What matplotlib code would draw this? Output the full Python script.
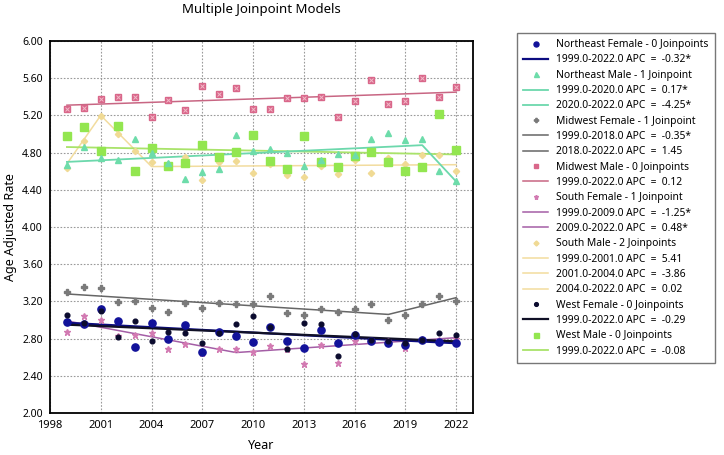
import matplotlib
matplotlib.use("Agg")
import matplotlib.pyplot as plt
from matplotlib.lines import Line2D

plt.rcParams['font.family'] = ['Noto Sans', 'DejaVu Sans']

years = list(range(1999, 2023))

ne_female = [2.98, 2.96, 3.12, 2.99, 2.71, 2.97, 2.80, 2.95, 2.66, 2.87, 2.83, 2.76,
             2.92, 2.77, 2.70, 2.89, 2.75, 2.84, 2.77, 2.75, 2.73, 2.79, 2.76, 2.75]
ne_male = [4.67, 4.86, 4.74, 4.72, 4.95, 4.80, 4.69, 4.52, 4.59, 4.62, 4.99, 4.82,
           4.84, 4.80, 4.66, 4.72, 4.78, 4.77, 4.95, 5.01, 4.94, 4.95, 4.60, 4.49]
mw_female = [3.30, 3.35, 3.34, 3.19, 3.20, 3.13, 3.09, 3.18, 3.13, 3.18, 3.17, 3.17,
             3.26, 3.08, 3.05, 3.12, 3.09, 3.12, 3.17, 3.00, 3.05, 3.17, 3.26, 3.20]
mw_male = [5.27, 5.28, 5.38, 5.40, 5.40, 5.18, 5.37, 5.26, 5.52, 5.43, 5.49, 5.27,
           5.27, 5.39, 5.39, 5.40, 5.18, 5.35, 5.58, 5.32, 5.35, 5.60, 5.40, 5.51]
s_female = [2.87, 3.04, 3.00, 2.83, 2.84, 2.86, 2.69, 2.74, 2.65, 2.69, 2.69, 2.66,
            2.72, 2.69, 2.53, 2.73, 2.54, 2.77, 2.78, 2.77, 2.70, 2.80, 2.78, 2.80]
s_male = [4.63, 4.92, 5.19, 5.00, 4.82, 4.70, 4.68, 4.75, 4.51, 4.70, 4.71, 4.58,
          4.68, 4.56, 4.54, 4.66, 4.57, 4.72, 4.58, 4.74, 4.68, 4.77, 4.77, 4.60]
w_female = [3.05, 2.97, 3.10, 2.82, 2.99, 2.77, 2.87, 2.86, 2.75, 2.86, 2.96, 3.04,
            2.93, 2.69, 2.97, 2.96, 2.61, 2.85, 2.78, 2.77, 2.75, 2.78, 2.86, 2.84]
w_male = [4.98, 5.08, 4.82, 5.09, 4.60, 4.85, 4.66, 4.69, 4.88, 4.75, 4.81, 4.99,
          4.71, 4.62, 4.98, 4.70, 4.65, 4.76, 4.81, 4.70, 4.60, 4.64, 5.22, 4.83]

# joinpoint model fits (joinpoint years, fitted values)
ne_female_fit_x, ne_female_fit_y = [1999, 2022], [2.97, 2.75]
ne_male_fit_x, ne_male_fit_y = [1999, 2020, 2022], [4.70, 4.88, 4.49]
mw_female_fit_x, mw_female_fit_y = [1999, 2018, 2022], [3.28, 3.06, 3.24]
mw_male_fit_x, mw_male_fit_y = [1999, 2022], [5.31, 5.45]
s_female_fit_x, s_female_fit_y = [1999, 2009, 2022], [2.99, 2.65, 2.81]
s_male_fit_x, s_male_fit_y = [1999, 2001, 2004, 2022], [4.68, 5.20, 4.65, 4.67]
w_female_fit_x, w_female_fit_y = [1999, 2022], [2.95, 2.77]
w_male_fit_x, w_male_fit_y = [1999, 2022], [4.86, 4.78]

series_names = ["Northeast Female - 0 Joinpoints", "Northeast Male - 1 Joinpoint",
                "Midwest Female - 1 Joinpoint", "Midwest Male - 0 Joinpoints",
                "South Female - 1 Joinpoint", "South Male - 2 Joinpoints",
                "West Female - 0 Joinpoints", "West Male - 0 Joinpoints"]
segment_labels = [
    ["1999.0-2022.0 APC  =  -0.32*"],
    ["1999.0-2020.0 APC  =  0.17*", "2020.0-2022.0 APC  =  -4.25*"],
    ["1999.0-2018.0 APC  =  -0.35*", "2018.0-2022.0 APC  =  1.45"],
    ["1999.0-2022.0 APC  =  0.12"],
    ["1999.0-2009.0 APC  =  -1.25*", "2009.0-2022.0 APC  =  0.48*"],
    ["1999.0-2001.0 APC  =  5.41", "2001.0-2004.0 APC  =  -3.86", "2004.0-2022.0 APC  =  0.02"],
    ["1999.0-2022.0 APC  =  -0.29"],
    ["1999.0-2022.0 APC  =  -0.08"],
]
xtick_vals = [1998, 2001, 2004, 2007, 2010, 2013, 2016, 2019, 2022]
ytick_vals = [2.00, 2.40, 2.80, 3.20, 3.60, 4.00, 4.40, 4.80, 5.20, 5.60, 6.00]

data = [ne_female, ne_male, mw_female, mw_male, s_female, s_male, w_female, w_male]
fits = [(ne_female_fit_x, ne_female_fit_y), (ne_male_fit_x, ne_male_fit_y),
        (mw_female_fit_x, mw_female_fit_y), (mw_male_fit_x, mw_male_fit_y),
        (s_female_fit_x, s_female_fit_y), (s_male_fit_x, s_male_fit_y),
        (w_female_fit_x, w_female_fit_y), (w_male_fit_x, w_male_fit_y)]

styles = [
    dict(marker='o', ms=5.2, mc='#12129a', lc='#0c0c80', lw=1.6),
    dict(marker='^', ms=4.6, mc='#6ddcaa', lc='#6cd8ac', lw=1.3),
    dict(marker='P', ms=3.8, mc='#7a7a7a', lc='#666666', lw=1.1),
    dict(marker='s', ms=4.2, mc='#d9678a', lc='#c86683', lw=1.1),
    dict(marker='*', ms=4.6, mc='#d27ab2', lc='#a45ea6', lw=1.1),
    dict(marker='D', ms=3.2, mc='#f0da94', lc='#f2dc9e', lw=1.1),
    dict(marker='o', ms=3.4, mc='#0b0b2e', lc='#101026', lw=1.6),
    dict(marker='s', ms=6.2, mc='#93e650', lc='#a9e36a', lw=1.3),
]

fig = plt.figure(figsize=(7.24, 4.55), dpi=100)
ax = fig.add_axes([50/724, 1-413/455, 423/724, 372/455])

draw_order = [5, 7, 1, 3, 2, 4, 0, 6]
for i in draw_order:
    st = styles[i]
    fx, fy = fits[i]
    ax.plot(fx, fy, color=st['lc'], lw=st['lw'], zorder=2)
for i in draw_order:
    st = styles[i]
    ax.plot(years, data[i], linestyle='none', marker=st['marker'], ms=st['ms'],
            color=st['mc'], markeredgecolor=st['mc'], zorder=3)
    if i == 3:
        ax.plot(years, data[i], linestyle='none', marker='x', ms=2.6,
                color='#f2b8c8', mew=0.7, zorder=4)

ax.set_xlim(1998, 2023)
ax.set_ylim(2.0, 6.0)
ax.set_xticks(xtick_vals)
ax.set_xticklabels([str(v) for v in xtick_vals], fontsize=8)
ax.set_yticks(ytick_vals)
ax.set_yticklabels([f"{v:.2f}" for v in ytick_vals], fontsize=7.5)
ax.tick_params(length=0, pad=5)
ax.grid(True, color='#9a9a9a', linestyle=(0, (1.5, 1.5)), linewidth=0.8)
ax.set_axisbelow(True)
for sp in ax.spines.values():
    sp.set_color('black')
    sp.set_linewidth(1.3)

ax.set_xlabel("Year", fontsize=9, fontweight='bold', labelpad=6)
ax.set_ylabel("Age Adjusted Rate", fontsize=9, fontweight='bold', labelpad=4)
ax.set_title("Multiple Joinpoint Models", fontsize=9.5, fontweight='bold', pad=20)

handles, labels = [], []
for i in range(8):
    st = styles[i]
    handles.append(Line2D([], [], linestyle='none', marker=st['marker'],
                          ms=min(st['ms'], 4.5) * 0.8, color=st['mc']))
    labels.append(series_names[i])
    for seg in segment_labels[i]:
        handles.append(Line2D([], [], color=st['lc'], lw=st['lw']))
        labels.append(seg)

leg = fig.legend(handles, labels, loc='upper left', bbox_to_anchor=(517/724, 1-33/455),
                 fontsize=7.4, frameon=True, fancybox=False, edgecolor='#555555',
                 handlelength=2.4, handletextpad=0.8, labelspacing=0.42,
                 borderpad=0.6, borderaxespad=0)
leg.get_frame().set_linewidth(1.0)

fig.savefig("out.png", dpi=100)
